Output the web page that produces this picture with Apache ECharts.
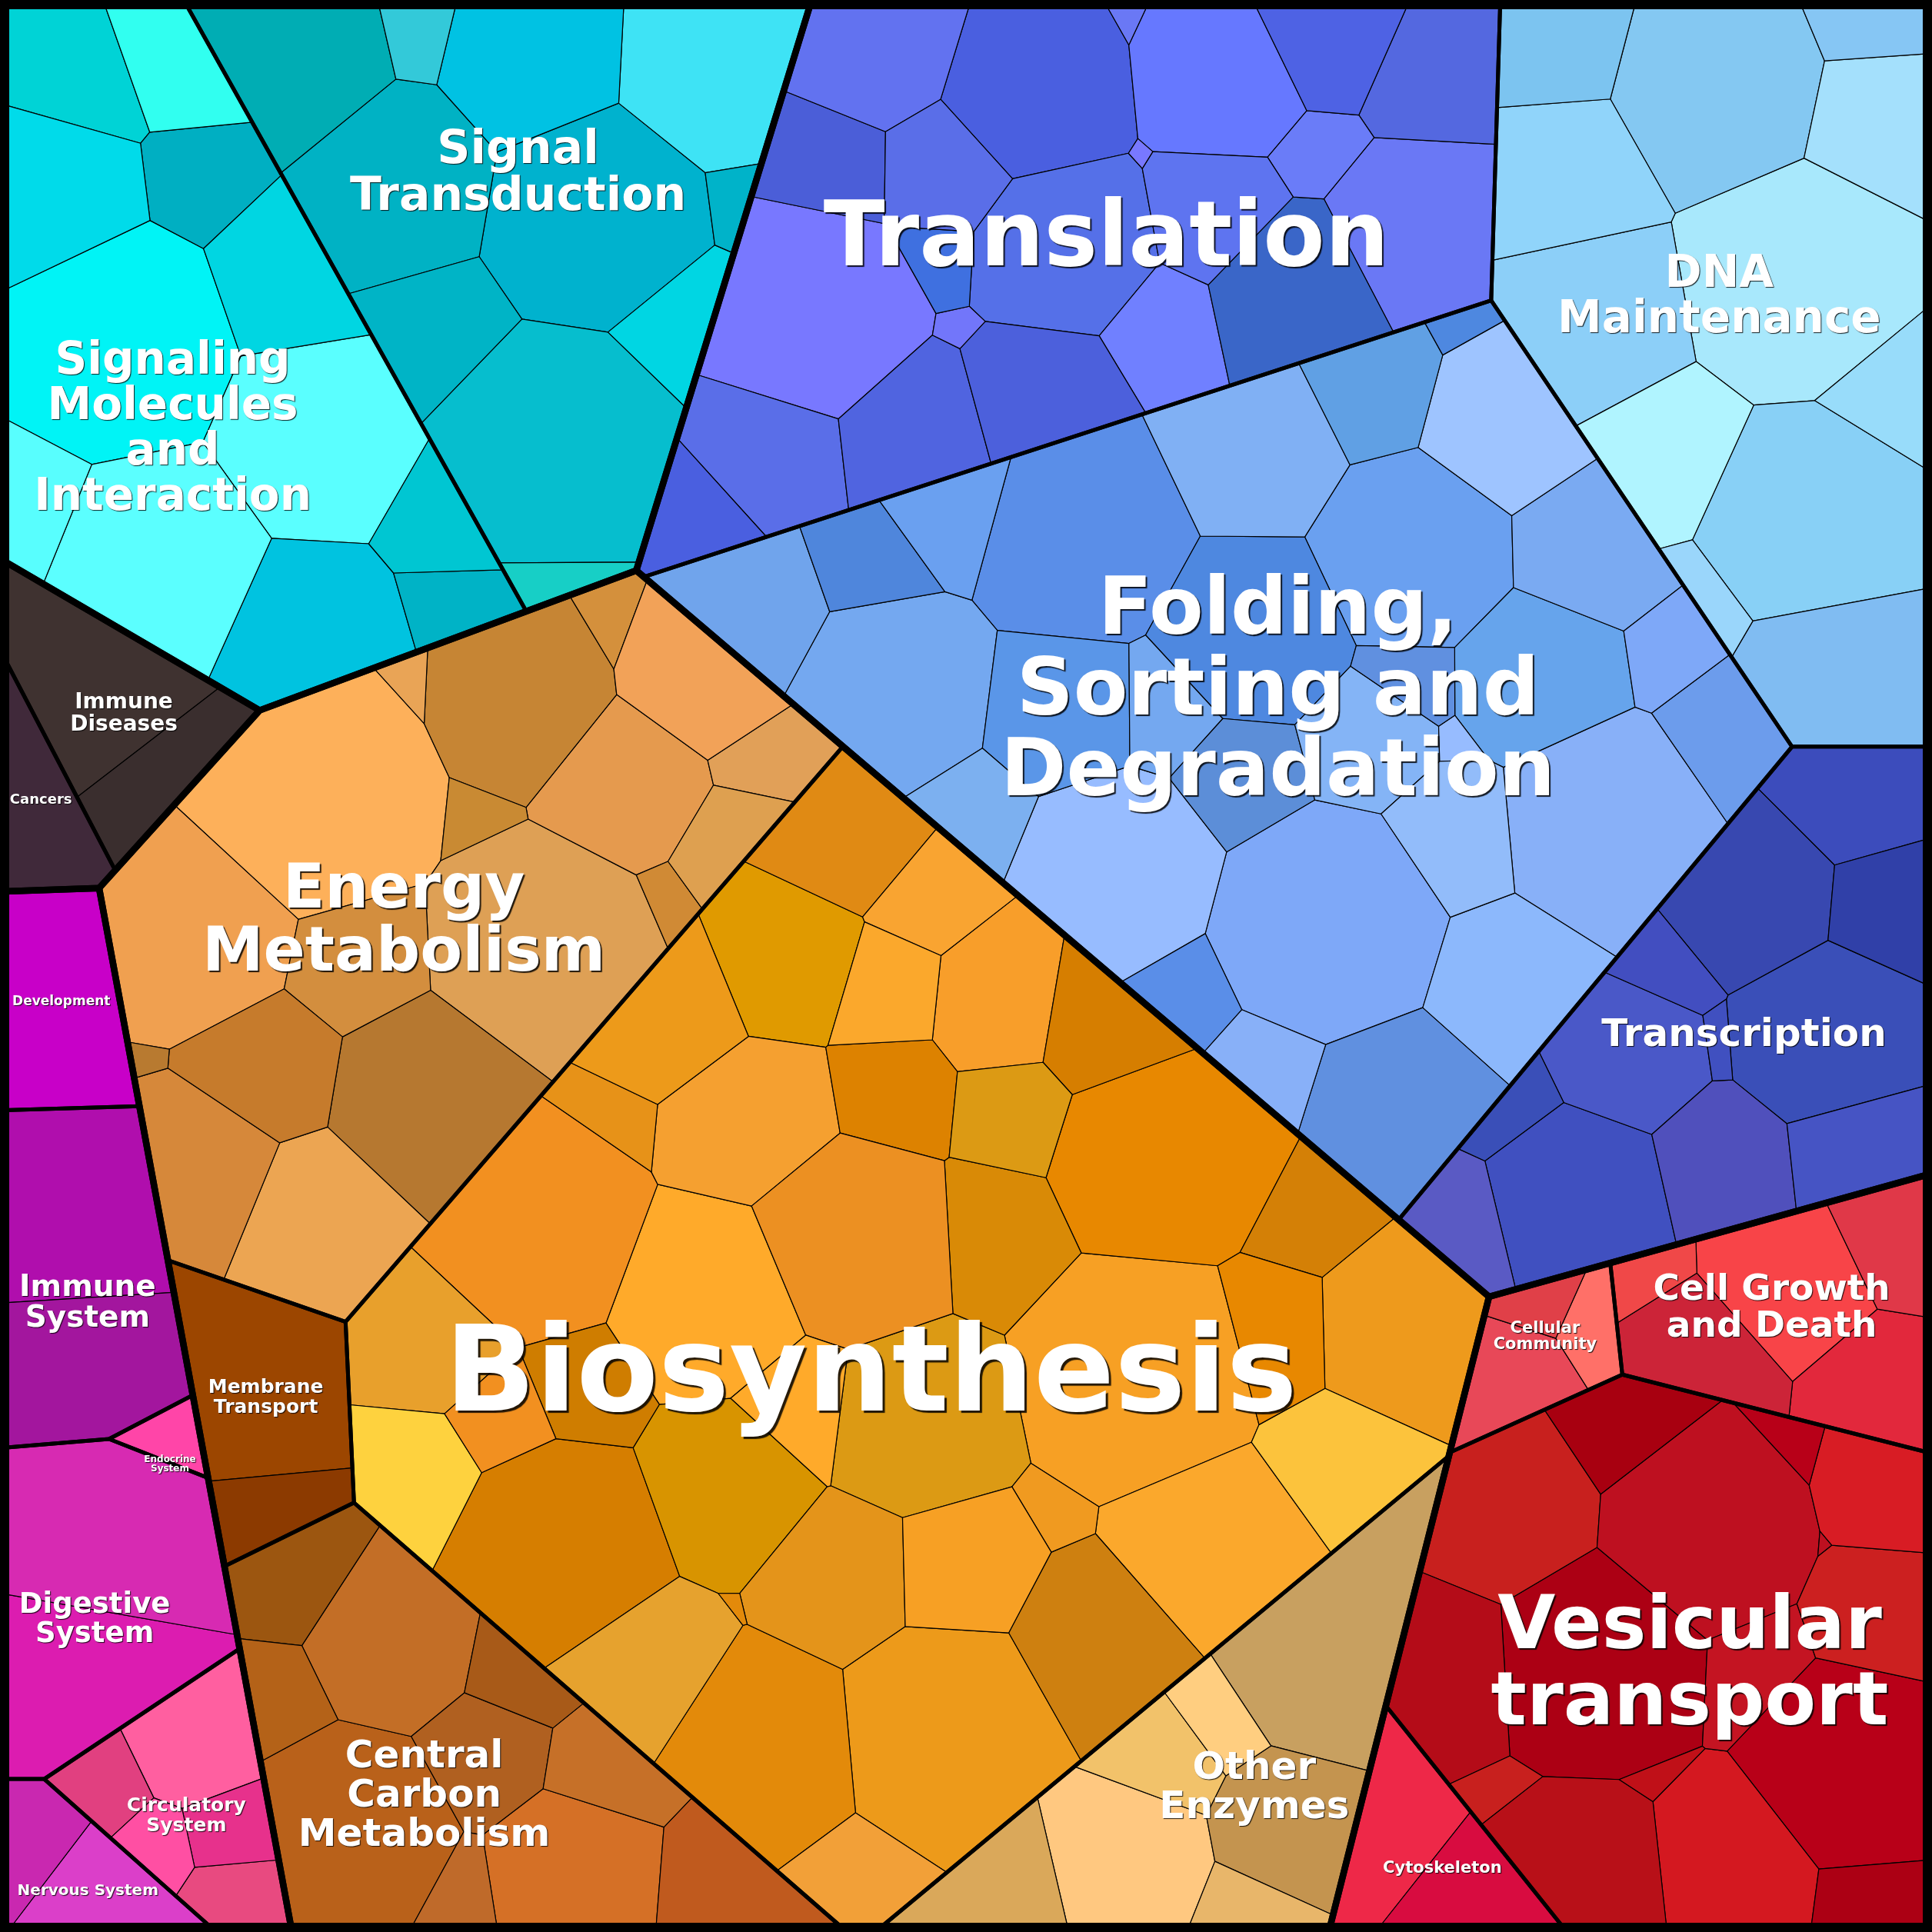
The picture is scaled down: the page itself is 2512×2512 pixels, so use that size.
<!DOCTYPE html>
<html><head><meta charset="utf-8">
<script src="https://cdn.jsdelivr.net/npm/echarts@6/dist/echarts.min.js"></script>
<style>html,body{margin:0;padding:0;background:#000}#c{width:2512px;height:2512px}</style>
</head><body><div id="c"></div>
<script>
// ================= DATA =================
const categories = ['Environmental Information Processing','Human Diseases','Organismal Systems','Metabolism','Genetic Information Processing','Cellular Processes'];
const groupLabels = ['Signal\nTransduction','Signaling\nMolecules\nand\nInteraction','Immune\nDiseases','Cancers','Development','Immune\nSystem','Endocrine\nSystem','Digestive\nSystem','Circulatory\nSystem','Nervous System','Energy\nMetabolism','Membrane\nTransport','Biosynthesis','Central\nCarbon\nMetabolism','Other\nEnzymes','Translation','Folding,\nSorting and\nDegradation','DNA\nMaintenance','Transcription','Cellular\nCommunity','Cell Growth\nand Death','Vesicular\ntransport','Cytoskeleton'];
const groupCategory = [0,0,1,1,2,2,2,2,2,2,3,3,3,3,3,4,4,4,4,5,5,5,5];
// leaf (pathway) values per group
const signalTransduction = [25,16,30,20,14,10,14,6,2.5,3,2];
const signalingMolecules = [25,30,15,14,22,12,8,7,6,5,4,5];
const immuneDiseases = [16,8];
const cancers = [9];
const development = [16.5];
const immuneSystem = [19,16];
const endocrineSystem = [2.5];
const digestiveSystem = [17,23];
const circulatorySystem = [9,4,4,4,3];
const nervousSystem = [7,5];
const energyMetabolism = [25,24,20,19,17,14,13,12,10,9,8,7,6,6,5,4,3,3];
const membraneTransport = [19,5.6];
const biosynthesis = [30,28,26,25,24,22,20,20,18,18,17,16,15,15,14,14,14,13,12,12,12,11,10,10,9,9,8,8,7,7,6,6,5,5,4,4,3,3,3];
const centralCarbon = [20,16,12,10,9,8,7,5,4,2.6];
const otherEnzymes = [22,14,12,8,6,4,3.6];
const translation = [20,18,16,15,14,13,12,12,11,10,10,9,8,8,7,6,5,5,4,4,3,3];
const folding = [28,25,24,22,20,19,18,17,16,15,14,13,12,11,10,10,9,9,8,7,7,6,6,5,5,4,4,3,3,2];
const dnaMaintenance = [30,25,22,18,16,14,12,10,8,6,4,2.7];
const transcription = [18,16,14,12,11,10,8,7,6,4,3,1.1];
const cellularCommunity = [6.5,3.5,2.4];
const cellGrowthDeath = [13,9,8,6,3.8];
const vesicularTransport = [20,18,16,14,13,12,11,10,9,8,7,6,6,5,4,4];
const cytoskeleton = [10,7];
const groupLeaves = [signalTransduction,signalingMolecules,immuneDiseases,cancers,development,immuneSystem,endocrineSystem,digestiveSystem,circulatorySystem,nervousSystem,energyMetabolism,membraneTransport,biosynthesis,centralCarbon,otherEnzymes,translation,folding,dnaMaintenance,transcription,cellularCommunity,cellGrowthDeath,vesicularTransport,cytoskeleton];

// ================= LAYOUT HINTS (fixed sites, in 1568-px units) =================
const categoryHint = [[292,230],[70,610],[91,1200],[616,1103],[1138,490],[1361,1291]];
const groupHint = [[420,180],[172,319],[120,558],[30,605],[55,803],[62,1040],[138,1185],[85,1320],[165,1440],[85,1530],[335,760],[205,1135],[740,1110],[390,1512],[1008,1433],[896,185],[1020,565],[1554,205],[1554,1009],[1255,1085],[1440,1065],[1370,1340],[1170,1500]];
// label nudges relative to each region's centroid (1568-px units)
const labelNudge = [[-7,-46],[-26,40],[8,2],[-2,-9],[-1,-3],[2,19],[0,22],[-7,20],[-3,13],[10,17],[-17,3],[0,-9],[-17,17],[-28,26],[28,15],[30,6],[-11,-18],[-18,-17],[17,-7],[4,-12],[-18,-5],[6,4],[13,12]];

// ================= STYLES =================
const groupColors = [
 ['#00b2ce','#3ee3f5','#06bece','#00b2c4','#00c2e3','#00b4c6','#00adb4','#00d6e3','#17cfc6','#33c9d9','#00b3c9'],
 ['#5affff','#00f4f6','#00c3e0','#00d3d6','#5bffff','#00afc2','#00b3c6','#00dbea','#00d6e2','#31fff0','#00c6d2','#58fefe'],
 ['#3f3230','#3a2e2e'],['#40293a'],['#c800c8'],['#b00ead','#a3169e'],['#ff45a8'],['#dc1cb0','#d72ab2'],
 ['#ff5fa0','#e14080','#e84a80','#e7318c','#ff4fa3'],['#db3fc9','#c928b0'],
 ['#fdb05a','#dea055','#f0a050','#b67830','#eca552','#e59a4e','#d38e3e','#c68534','#d6883a','#e1a058','#c67b2c','#d4903c','#f2a258','#c98a33','#e9a456','#d08a35','#dea050','#b87a30'],
 ['#9c4600','#8c3a00'],
 ['#f7a024','#ed9a1a','#e88800','#d67e00','#ffaa2a','#dc9a14','#e38a0a','#f29020','#fba82c','#e09a00','#ee9a1c','#f89e2a','#d89400','#d98a06','#e4941a','#e8a02c','#ce8010','#f5a030','#fcc33c','#dd8200','#ec9022','#e6a22e','#fed23e','#e08a14','#d48006','#f9a431','#cf7d00','#e79218','#f09a20','#f2a038'],
 ['#b9611a','#c36e26','#d57026','#b06020','#c05a1e','#9c5610','#c67028','#b46218','#bf6a2a','#a85a18'],
 ['#c8a060','#ffc880','#c4944f','#daa85a','#f2c26a','#ffce80','#e8b66a'],
 ['#7878ff','#4a5fe0','#6a78f5','#5a6ee8','#6678ff','#5570e8','#4b5ed8','#7080ff','#5468e0','#6272f0','#3a66c8','#5064e0','#6a7cf8','#4c60dc','#5e74f0','#7276fa','#4e62e4','#3f70e0'],
 ['#7ea8f8','#5a8ee8','#88b0f8','#6aa0f0','#97bcff','#4e88e0','#74a8f0','#6090e0','#80b0f4','#5a96e8','#8cb8fc','#66a4ec','#7aaaf2','#9ec4ff','#5c8ed8','#70a4ec','#84b4f6','#4f86dc','#92bcfa','#6c9cec','#60a0e4','#7cb0f0'],
 ['#a8e8fc','#88d0f6','#84c8f2','#8ccff8','#80bcf2','#90d4fa','#b0f4ff','#a4e0fc','#7cc4f0','#98dcfa','#86c6f4','#9ad6fb'],
 ['#3a4fb8','#4050c0','#3848b0','#4a58c8','#5050bc','#3c4cbc','#4654c4','#3040a8','#5a5ac4','#424ec0'],
 ['#e84858','#ff7068','#e04048'],['#f84448','#e2283c','#cc2438','#e03848','#f04848'],
 ['#ac0014','#b80018','#c8201e','#be1020','#d41820','#b40c18','#c41422','#a80010','#cc2020','#b81018','#d81c24','#c01018'],
 ['#ee2848','#d80c40']
];
const groupFont = [60,58,28,18,17,39,12,37,25,20,80,25,155,50,50,117,103,58,50,21,47,97,21];

// ================= GEOMETRY =================
function polyArea(p){let s=0;for(let i=0,n=p.length;i<n;i++){const a=p[i],b=p[(i+1)%n];s+=a[0]*b[1]-b[0]*a[1];}return s/2;}
function polyCentroid(p){let a=0,cx=0,cy=0;for(let i=0,n=p.length;i<n;i++){const P=p[i],Q=p[(i+1)%n];const cr=P[0]*Q[1]-Q[0]*P[1];a+=cr;cx+=(P[0]+Q[0])*cr;cy+=(P[1]+Q[1])*cr;}a/=2;
 if(Math.abs(a)<1e-9){let x=0,y=0;p.forEach(q=>{x+=q[0];y+=q[1];});return [x/p.length,y/p.length];}return [cx/(6*a),cy/(6*a)];}
function clipHalf(p,A,B,C){const out=[];const n=p.length;if(n<3)return out;
 for(let i=0;i<n;i++){const P=p[i],Q=p[(i+1)%n];const fp=A*P[0]+B*P[1]-C,fq=A*Q[0]+B*Q[1]-C;
  if(fp<=0)out.push(P);
  if((fp<0&&fq>0)||(fp>0&&fq<0)){const t=fp/(fp-fq);out.push([P[0]+t*(Q[0]-P[0]),P[1]+t*(Q[1]-P[1])]);}}
 return out;}
function powerCells(s,w,bound){const n=s.length,cells=[];
 for(let i=0;i<n;i++){let c=bound.slice();const si=s[i];const si2=si[0]*si[0]+si[1]*si[1];
  for(let j=0;j<n;j++){if(j===i)continue;if(c.length<3)break;const sj=s[j];
   c=clipHalf(c,2*(sj[0]-si[0]),2*(sj[1]-si[1]),(sj[0]*sj[0]+sj[1]*sj[1])-si2-w[j]+w[i]);}
  cells.push(c);}
 return cells;}
function fixOverweight(s,w){const n=s.length;
 for(let pass=0;pass<30;pass++){let ch=false;
  for(let i=0;i<n;i++)for(let j=i+1;j<n;j++){const dx=s[i][0]-s[j][0],dy=s[i][1]-s[j][1],d2=dx*dx+dy*dy;const d=w[i]-w[j];
   if(d>d2){w[i]=w[j]+d2*0.99;ch=true;}else if(-d>d2){w[j]=w[i]+d2*0.99;ch=true;}}
  if(!ch)break;}}
function inside(poly,pt){let sg=0;for(let i=0,n=poly.length;i<n;i++){const a=poly[i],b=poly[(i+1)%n];
 const cr=(b[0]-a[0])*(pt[1]-a[1])-(b[1]-a[1])*(pt[0]-a[0]);if(Math.abs(cr)<1e-9)continue;const s=cr>0?1:-1;if(sg===0)sg=s;else if(s!==sg)return false;}return true;}
const d2f=(a,b)=>(a[0]-b[0])*(a[0]-b[0])+(a[1]-b[1])*(a[1]-b[1]);
// power diagram with fixed sites; weights solved so cell areas match the values
function vtmFixed(bound,values,s,iters){const n=values.length;if(n===1)return [bound.slice()];
 const A=Math.abs(polyArea(bound));const tot=values.reduce((a,b)=>a+b,0);const tgt=values.map(v=>v/tot*A);
 const w=new Array(n).fill(0);
 for(let it=0;it<iters;it++){const cells=powerCells(s,w,bound);const dw=new Array(n).fill(0);
  for(let i=0;i<n;i++){const c=cells[i];const a=c.length>=3?Math.abs(polyArea(c)):0;let H=0;
   if(c.length>=3){for(let e=0;e<c.length;e++){const P=c[e],Q=c[(e+1)%c.length];const L=Math.sqrt(d2f(P,Q));if(L<1e-9)continue;
     const m=[(P[0]+Q[0])/2,(P[1]+Q[1])/2];const pi=d2f(m,s[i])-w[i];let best=-1,bd=Infinity;
     for(let j=0;j<n;j++){if(j===i)continue;const dd=Math.abs(d2f(m,s[j])-w[j]-pi);if(dd<bd){bd=dd;best=j;}}
     if(best>=0&&bd<1e-5*(Math.abs(pi)+1000))H+=L/(2*Math.sqrt(d2f(s[i],s[best])));}}
   if(H>0)dw[i]=0.5*(tgt[i]-a)/H;else{let md=Infinity;for(let j=0;j<n;j++)if(j!==i)md=Math.min(md,d2f(s[i],s[j]));dw[i]=a<tgt[i]?0.05*md:0;}}
  for(let i=0;i<n;i++)w[i]+=dw[i];}
 return powerCells(s,w,bound);}
// centroidal power diagram (Lloyd + weight adaptation) for the leaves
function vtm(bound,values,init,iters){const n=values.length;if(n===1)return [bound.slice()];
 const A=Math.abs(polyArea(bound));const tot=values.reduce((a,b)=>a+b,0);const tgt=values.map(v=>v/tot*A);
 const s=init.map(p=>[p[0],p[1]]);const w=new Array(n).fill(A/n/2);fixOverweight(s,w);
 for(let it=0;it<iters;it++){let cells=powerCells(s,w,bound);
  for(let i=0;i<n;i++){if(cells[i].length>=3&&Math.abs(polyArea(cells[i]))>1e-6)s[i]=polyCentroid(cells[i]);}
  fixOverweight(s,w);cells=powerCells(s,w,bound);
  const damp=it<iters*0.6?1:0.5;
  for(let i=0;i<n;i++){const a=Math.abs(polyArea(cells[i]));let r=tgt[i]/Math.max(a,1e-6);r=Math.min(2,Math.max(0.5,r));r=Math.pow(r,damp);w[i]=Math.max(w[i]*r,1e-4);}
  fixOverweight(s,w);}
 return powerCells(s,w,bound);}
function halton(i,b){let f=1,r=0;while(i>0){f/=b;r+=f*(i%b);i=Math.floor(i/b);}return r;}
function seedsIn(poly,n,off){let x0=1e9,y0=1e9,x1=-1e9,y1=-1e9;poly.forEach(p=>{x0=Math.min(x0,p[0]);y0=Math.min(y0,p[1]);x1=Math.max(x1,p[0]);y1=Math.max(y1,p[1]);});
 const out=[];let k=off+1;while(out.length<n&&k<off+100000){const pt=[x0+(x1-x0)*halton(k,2),y0+(y1-y0)*halton(k,3)];if(inside(poly,pt))out.push(pt);k++;}return out;}

// ================= LAYOUT =================
const SC=2512/1568, M0=6, M1=2506;
const square=[[M0,M0],[M1,M0],[M1,M1],[M0,M1]];
const groupVal=groupLeaves.map(a=>a.reduce((s,v)=>s+v,0));
const catVal=categories.map((_,c)=>groupVal.reduce((s,v,g)=>s+(groupCategory[g]===c?v:0),0));
const catPolys=vtmFixed(square,catVal,categoryHint.map(p=>[p[0]*SC,p[1]*SC]),800);
const groupPolys=new Array(groupLeaves.length);
categories.forEach((_,c)=>{const idx=[];groupCategory.forEach((cc,g)=>{if(cc===c)idx.push(g);});
 const sites=idx.map(g=>[groupHint[g][0]*SC,groupHint[g][1]*SC]);
 const polys=vtmFixed(catPolys[c],idx.map(g=>groupVal[g]),sites,800);idx.forEach((g,k)=>groupPolys[g]=polys[k]);});
const leafCells=[];
groupLeaves.forEach((vals,g)=>{const poly=groupPolys[g];const init=seedsIn(poly,vals.length,g*13);
 const polys=vtm(poly,vals,init,160);const cols=groupColors[g];
 polys.forEach((p,k)=>leafCells.push({poly:p,color:cols[k%cols.length]}));});

// ================= CHART =================
const chart=echarts.init(document.getElementById('c'),null,{renderer:'canvas'});
function polyItem(poly,api,style){return {type:'polygon',shape:{points:poly.map(p=>api.coord(p))},style:style};}
const labelData=groupLabels.map((t,g)=>{const c=polyCentroid(groupPolys[g]);const fs=groupFont[g];const o=Math.max(1,Math.round(fs*0.02));
 const pos=[c[0]+labelNudge[g][0]*SC,c[1]+labelNudge[g][1]*SC];
 return {name:t,value:pos,label:{fontSize:fs,lineHeight:Math.round(fs*1.02),textShadowBlur:1,textShadowOffsetX:o,textShadowOffsetY:o}};});
chart.setOption({
 animation:false,backgroundColor:'#000',
 grid:{left:0,right:0,top:0,bottom:0},
 xAxis:{type:'value',min:0,max:2512,show:false},
 yAxis:{type:'value',min:0,max:2512,show:false,inverse:true},
 series:[
  {type:'custom',z:1,silent:true,data:leafCells.map(c=>polyCentroid(c.poly)),
   renderItem:(p,api)=>{const c=leafCells[p.dataIndex];return polyItem(c.poly,api,{fill:c.color,stroke:'#000',lineWidth:1.2,lineJoin:'round'});}},
  {type:'custom',z:2,silent:true,data:groupPolys.map(q=>polyCentroid(q)),
   renderItem:(p,api)=>polyItem(groupPolys[p.dataIndex],api,{fill:'none',stroke:'#000',lineWidth:5,lineJoin:'round'})},
  {type:'custom',z:3,silent:true,data:catPolys.map(q=>polyCentroid(q)),
   renderItem:(p,api)=>polyItem(catPolys[p.dataIndex],api,{fill:'none',stroke:'#000',lineWidth:8.5,lineJoin:'round'})},
  {type:'custom',z:4,silent:true,data:[[1256,1256]],
   renderItem:(p,api)=>polyItem(square,api,{fill:'none',stroke:'#000',lineWidth:12})},
  {type:'scatter',z:5,silent:true,symbolSize:0,itemStyle:{opacity:1},data:labelData,
   label:{show:true,opacity:1,position:'inside',formatter:'{b}',color:'#ffffff',fontFamily:'"DejaVu Sans", sans-serif',fontWeight:'bold',align:'center',verticalAlign:'middle',textShadowColor:'rgba(0,0,0,0.85)'}}
 ]
});
</script></body></html>
